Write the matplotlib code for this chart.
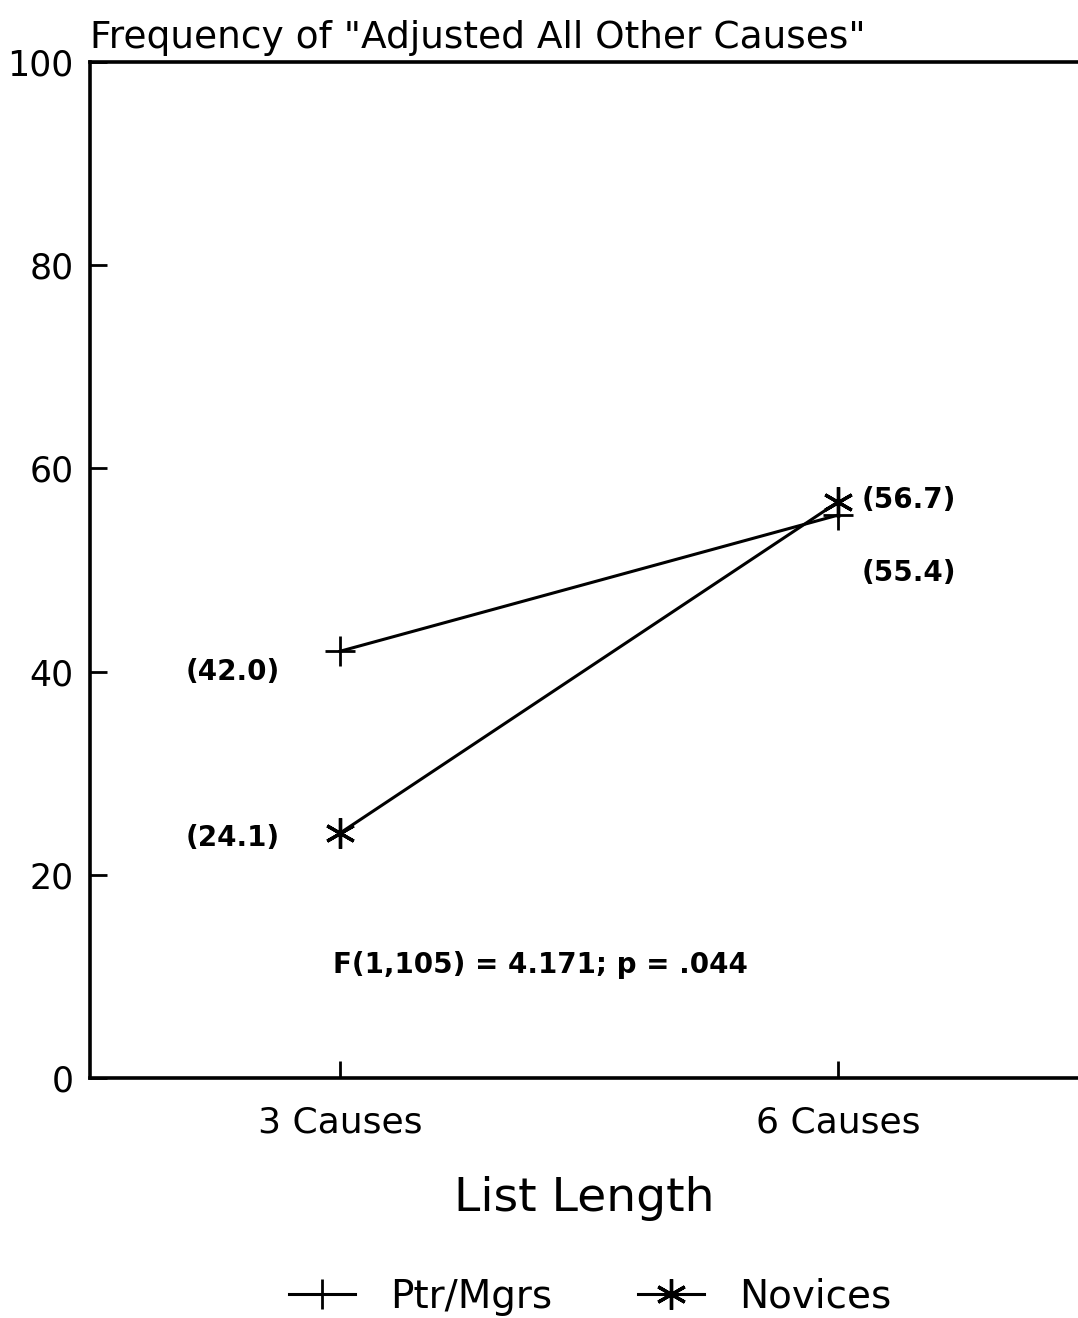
import matplotlib
matplotlib.use("Agg")
import matplotlib.pyplot as plt

# Mean frequency by list length
categories = ["3 Causes", "6 Causes"]
ptr_mgrs = [42.0, 55.4]
novices = [24.1, 56.7]
stat_text = "F(1,105) = 4.171; p = .044"

plt.rcParams['font.family'] = ['DejaVu Sans']

fig = plt.figure(figsize=(10.78, 13.18), dpi=100)
ax = fig.add_axes([90 / 1078, 1 - 1078 / 1318, 1 - 90 / 1078, (1078 - 62) / 1318])

x = list(range(len(categories)))
asterisk = (6, 2, 0)  # six-armed asterisk, one arm pointing up

ax.plot(x, ptr_mgrs, color='black', lw=2.2, marker='+', ms=22, mew=2.0, label='Ptr/Mgrs')
ax.plot(x, novices, color='black', lw=2.2, marker=asterisk, ms=22, mew=2.4, label='Novices')

# value labels next to each point
lbl = dict(fontsize=20, fontweight='bold', va='center')
ax.text(x[0] - 0.12, ptr_mgrs[0] - 2.0, f"({ptr_mgrs[0]:.1f})", ha='right', **lbl)
ax.text(x[0] - 0.12, novices[0] - 0.5, f"({novices[0]:.1f})", ha='right', **lbl)
ax.text(x[1] + 0.048, novices[1] + 0.2, f"({novices[1]:.1f})", ha='left', **lbl)
ax.text(x[1] + 0.048, ptr_mgrs[1] - 5.7, f"({ptr_mgrs[1]:.1f})", ha='left', **lbl)
ax.text(x[0] - 0.014, 11.1, stat_text, ha='left', **lbl)

ax.set_xlim(-0.502, 1.482)
ax.set_ylim(0, 100)
ax.set_yticks([0, 20, 40, 60, 80, 100])
ax.set_xticks(x)
ax.set_xticklabels(categories)

ax.tick_params(axis='both', direction='in', length=12, width=2)
ax.tick_params(axis='x', pad=20, labelsize=26)
ax.tick_params(axis='y', pad=12, labelsize=25)

for side in ['left', 'top', 'bottom']:
    ax.spines[side].set_linewidth(2.6)
ax.spines['right'].set_visible(False)

ax.set_title('Frequency of "Adjusted All Other Causes"', loc='left', fontsize=27, pad=10)
ax.set_xlabel('List Length', fontsize=34, labelpad=26)

fig.legend(loc='center', bbox_to_anchor=(590 / 1078, 1 - 1297 / 1318), ncol=2,
           frameon=False, fontsize=28, handlelength=1.7, columnspacing=2.2,
           handletextpad=0.9, markerscale=1.0)

fig.savefig("out.png", dpi=100)
